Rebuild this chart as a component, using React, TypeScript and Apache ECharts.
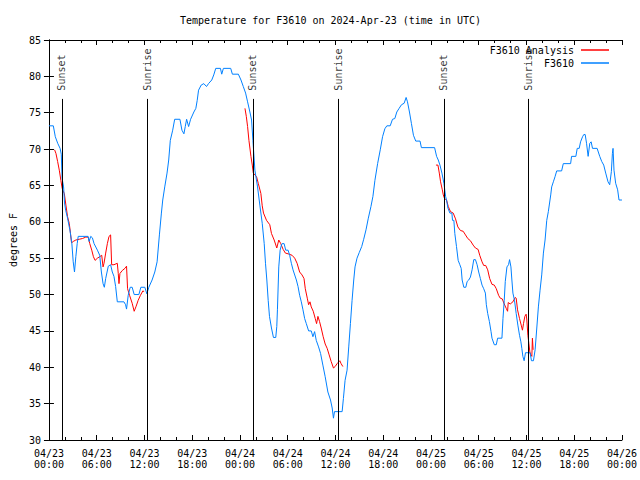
import React, { useEffect, useRef } from "react";
import * as echarts from "echarts";

const TITLE = "Temperature for F3610 on 2024-Apr-23 (time in UTC)";
const Y_NAME = "degrees F";
const FONT = "DejaVu Sans Mono";

// x = hours since 04/23 00:00 UTC
const xTickLabels = [
  "04/23\n00:00", "04/23\n06:00", "04/23\n12:00", "04/23\n18:00",
  "04/24\n00:00", "04/24\n06:00", "04/24\n12:00", "04/24\n18:00",
  "04/25\n00:00", "04/25\n06:00", "04/25\n12:00", "04/25\n18:00",
  "04/26\n00:00",
];
const X_MIN = 0, X_MAX = 72, X_STEP = 6;
const Y_MIN = 30, Y_MAX = 85, Y_STEP = 5;

const sunTimes = [1.62, 12.37, 25.62, 36.37, 49.62, 60.25];
const sunLabels = ["Sunset", "Sunrise", "Sunset", "Sunrise", "Sunset", "Sunrise"];
const sunLineTop = 76.9;
const sunLabelBase = 77.9;

const f3610: [number, number][] = [
  [0, 73.2], [0.55, 73.2], [0.8, 71.7], [1.1, 70.8], [1.4, 70.1], [1.55, 69.3], [1.65, 66.0],
  [1.84, 64.8], [1.96, 62.6], [2.1, 61.6], [2.34, 60.5], [2.55, 59.3], [2.63, 58.9], [2.88, 57.0],
  [3.05, 54.5], [3.21, 53.1], [3.38, 55.2], [3.55, 57.0], [3.68, 58.0], [4.92, 58.0], [5.05, 57.3],
  [5.25, 58.0], [5.46, 57.8], [5.67, 57.0], [6.09, 56.1], [6.38, 55.4], [6.59, 53.1], [6.8, 51.5],
  [6.96, 51.0], [7.13, 52.2], [7.46, 53.9], [7.75, 54.1], [7.96, 53.1], [8.17, 52.5], [8.38, 51.1],
  [8.59, 49.0], [9.42, 49.0], [9.63, 48.6], [9.75, 48.0], [9.96, 49.9], [10.21, 51.0], [10.46, 51.0],
  [10.71, 50.0], [11.3, 50.0], [11.55, 51.0], [12.05, 51.0], [12.3, 50.1], [12.55, 51.0], [12.96, 52.0],
  [13.3, 53.1], [13.59, 54.5], [13.88, 58.2], [14.13, 61.2], [14.3, 63.0], [14.55, 64.8], [14.84, 66.7],
  [15.05, 68.5], [15.25, 71.2], [15.55, 72.6], [15.8, 74.1], [16.46, 74.1], [16.71, 72.6], [16.96, 72.1],
  [17.13, 73.1], [17.3, 74.1], [17.55, 73.1], [17.8, 74.1], [18.21, 75.1], [18.46, 75.6], [18.63, 76.7],
  [18.8, 78.1], [19.13, 78.8], [19.46, 79.0], [19.8, 78.6], [20.05, 79.0], [20.46, 79.5], [20.71, 80.2],
  [20.96, 81.1], [21.55, 81.1], [21.71, 80.3], [21.92, 81.1], [22.84, 81.1], [23.05, 80.3], [23.8, 80.3],
  [24.13, 79.5], [24.42, 78.6], [24.71, 77.7], [24.96, 76.5], [25.25, 75.1], [25.46, 74.0], [25.63, 71.2],
  [25.88, 67.1], [26.21, 64.8], [26.5, 62.3], [26.8, 59.8], [27.05, 57.0], [27.21, 54.3], [27.38, 52.0],
  [27.55, 49.2], [27.71, 47.0], [27.96, 45.4], [28.21, 44.1], [28.5, 44.1], [28.63, 45.6], [28.71, 47.9],
  [28.88, 53.8], [29.05, 56.1], [29.21, 56.8], [29.3, 57.0], [29.55, 57.0], [29.75, 56.1], [30.05, 56.1],
  [30.25, 55.4], [30.46, 54.3], [30.67, 53.4], [31.09, 52.0], [31.3, 51.1], [31.5, 49.9], [31.71, 49.0],
  [31.92, 47.9], [32.13, 46.7], [32.34, 46.0], [32.63, 45.0], [32.96, 45.0], [33.17, 44.2], [33.38, 44.9],
  [33.59, 43.7], [33.88, 42.8], [34.13, 41.9], [34.42, 40.3], [34.71, 38.7], [35.05, 36.6], [35.38, 35.5],
  [35.59, 34.4], [35.75, 33.0], [35.88, 33.9], [36.84, 33.9], [37.0, 35.7], [37.21, 38.2], [37.46, 39.6],
  [37.67, 42.8], [37.88, 46.0], [38.09, 49.2], [38.3, 52.0], [38.46, 53.8], [38.71, 55.0], [39.0, 55.8],
  [39.3, 56.6], [39.55, 57.6], [39.84, 58.9], [40.13, 60.5], [40.46, 62.1], [40.71, 63.5], [40.96, 65.7],
  [41.3, 68.0], [41.63, 69.9], [41.92, 71.7], [42.21, 72.8], [42.46, 73.2], [42.88, 73.2], [43.17, 74.1],
  [43.46, 74.2], [43.71, 75.1], [44.0, 75.6], [44.3, 76.1], [44.63, 76.3], [44.88, 77.1], [45.05, 76.5],
  [45.3, 75.1], [45.55, 73.5], [45.8, 71.9], [46.09, 71.1], [46.63, 71.1], [46.8, 70.2], [48.46, 70.2],
  [48.71, 69.0], [48.92, 68.5], [49.13, 67.8], [49.38, 66.7], [49.63, 65.3], [49.84, 63.5], [49.96, 63.0],
  [50.13, 61.9], [50.38, 61.2], [50.63, 61.2], [50.71, 60.2], [50.88, 60.2], [51.0, 58.4], [51.21, 56.6],
  [51.42, 54.7], [51.63, 54.1], [51.8, 53.6], [51.92, 52.0], [52.13, 51.0], [52.38, 51.0], [52.55, 51.8],
  [52.75, 52.0], [52.96, 52.4], [53.17, 53.4], [53.38, 54.8], [53.59, 54.8], [53.8, 54.1], [54.0, 53.1],
  [54.21, 52.2], [54.42, 51.3], [54.63, 50.8], [54.84, 50.2], [54.96, 48.6], [55.13, 47.4], [55.34, 46.3],
  [55.55, 44.9], [55.67, 44.0], [55.96, 43.1], [56.21, 43.1], [56.38, 44.0], [56.92, 44.0], [57.05, 46.7],
  [57.21, 49.2], [57.34, 51.8], [57.55, 53.8], [57.75, 54.1], [57.88, 54.8], [58.05, 53.8], [58.17, 52.0],
  [58.3, 50.2], [58.5, 49.2], [58.71, 47.4], [58.92, 45.8], [59.13, 44.4], [59.3, 43.5], [59.42, 42.6],
  [59.55, 41.5], [59.71, 40.9], [59.88, 42.0], [60.46, 42.0], [60.63, 40.9], [60.88, 40.9], [61.09, 42.4],
  [61.3, 45.4], [61.5, 48.3], [61.71, 50.6], [61.92, 52.7], [62.13, 55.7], [62.34, 57.5], [62.55, 60.2],
  [62.75, 61.4], [63.05, 63.7], [63.17, 64.8], [63.38, 65.5], [63.59, 66.2], [63.8, 67.0], [64.42, 67.0],
  [64.63, 68.0], [65.55, 68.0], [65.67, 69.0], [66.21, 69.0], [66.38, 70.1], [66.63, 70.1], [66.8, 71.0],
  [67.05, 71.7], [67.21, 72.0], [67.38, 72.0], [67.55, 70.8], [67.75, 69.0], [67.96, 70.8], [68.13, 71.0],
  [68.3, 70.1], [68.88, 70.1], [69.21, 69.0], [69.46, 68.3], [69.71, 67.8], [69.96, 66.7], [70.25, 65.5],
  [70.46, 65.1], [70.67, 66.9], [70.8, 69.4], [70.88, 70.1], [71.0, 67.1], [71.21, 65.3], [71.46, 64.4],
  [71.63, 63.0], [72.0, 63.0],
];

const analysisNight1: [number, number][] = [
  [0.71, 69.9], [0.88, 69.4], [1.09, 68.3], [1.3, 67.1], [1.5, 65.7], [1.63, 64.8], [1.71, 64.4],
  [1.93, 63.9], [2.13, 62.3], [2.34, 60.7], [2.55, 59.8], [2.71, 58.4], [2.84, 57.1], [3.05, 57.3],
  [3.38, 57.5], [3.8, 57.6], [4.21, 57.7], [4.63, 57.9], [4.93, 57.9], [5.13, 57.0], [5.38, 56.1],
  [5.59, 55.2], [5.8, 54.7], [6.09, 55.0], [6.38, 55.2], [6.63, 55.4], [6.8, 53.8], [6.92, 54.3],
  [7.13, 55.7], [7.34, 57.0], [7.55, 58.0], [7.75, 58.2], [7.88, 54.1], [8.17, 54.1], [8.59, 54.3],
  [8.71, 52.9], [8.8, 51.5], [8.92, 52.9], [9.21, 53.3], [9.55, 53.6], [9.75, 53.9], [9.88, 50.8],
  [10.13, 49.9], [10.46, 48.8], [10.71, 47.7], [10.96, 48.4], [11.21, 49.2], [11.5, 49.9], [11.8, 50.5],
  [11.96, 50.4],
];

const analysisNight2: [number, number][] = [
  [24.63, 75.6], [24.8, 74.5], [24.96, 73.1], [25.13, 71.2], [25.38, 69.0], [25.55, 67.8], [25.68, 66.7],
  [26.09, 66.2], [26.3, 65.3], [26.63, 63.9], [26.8, 62.2], [26.96, 61.2], [27.34, 60.2], [27.75, 59.6],
  [27.96, 58.4], [28.3, 57.5], [28.63, 56.4], [28.88, 57.5], [29.13, 57.0], [29.43, 56.2], [29.71, 55.7],
  [30.05, 55.6], [30.55, 55.4], [30.88, 55.0], [31.18, 54.3], [31.5, 53.1], [31.8, 52.7], [32.05, 52.2],
  [32.21, 50.8], [32.46, 49.5], [32.63, 48.6], [32.8, 49.0], [32.96, 48.3], [33.21, 47.7], [33.46, 46.7],
  [33.63, 46.0], [33.8, 47.0], [34.0, 46.3], [34.21, 45.4], [34.46, 44.2], [34.71, 43.2], [34.96, 42.6],
  [35.21, 41.7], [35.46, 40.8], [35.75, 39.9], [35.96, 40.1], [36.21, 40.5], [36.55, 40.9], [36.71, 40.5],
  [36.93, 40.1],
];

const analysisNight3: [number, number][] = [
  [48.63, 67.8], [48.88, 67.8], [49.05, 66.7], [49.21, 65.5], [49.43, 64.4], [49.55, 63.7], [49.71, 63.2],
  [49.96, 63.0], [50.18, 62.1], [50.46, 61.4], [50.8, 61.2], [51.09, 60.4], [51.38, 59.3], [51.71, 58.8],
  [52.05, 58.7], [52.34, 58.2], [52.63, 57.7], [52.96, 57.4], [53.3, 56.8], [53.59, 56.4], [53.93, 56.2],
  [54.13, 55.4], [54.42, 54.5], [54.63, 54.0], [54.88, 54.0], [55.13, 53.4], [55.38, 52.2], [55.67, 51.4],
  [55.96, 51.3], [56.21, 50.8], [56.5, 49.9], [56.71, 49.5], [56.96, 49.4], [57.21, 48.7], [57.46, 48.1],
  [57.63, 47.7], [57.71, 48.9], [57.96, 48.7], [58.3, 49.0], [58.59, 49.6], [58.71, 49.5], [58.88, 47.9],
  [59.13, 46.7], [59.34, 45.8], [59.5, 45.1], [59.63, 46.0], [59.8, 47.0], [59.96, 47.3], [60.05, 46.5],
  [60.18, 44.4], [60.3, 43.3], [60.43, 42.1], [60.55, 41.7], [60.68, 41.5], [60.75, 44.0], [60.84, 42.4],
];

const RED = "#ff0000";
const BLUE = "#0080ff";
const ANALYSIS_NAME = "F3610 Analysis";
const STATION_NAME = "F3610";

export default function App() {
  const ref = useRef<HTMLDivElement>(null);
  useEffect(() => {
    if (!ref.current) return;
    const chart = echarts.init(ref.current, null, { renderer: "svg" });
    const txt = { fontFamily: FONT, fontSize: 10, color: "#000" };
    const axisLine = { show: true, lineStyle: { color: "#000", width: 1 } };
    const xBase = {
      type: "value" as const,
      min: X_MIN,
      max: X_MAX,
      interval: X_STEP,
      axisLine,
      splitLine: { show: false },
      axisTick: { show: true, inside: true, length: 5, lineStyle: { color: "#000" } },
      minorTick: { show: true, splitNumber: 3, length: 3, lineStyle: { color: "#000" } },
    };
    const yBase = {
      type: "value" as const,
      min: Y_MIN,
      max: Y_MAX,
      interval: Y_STEP,
      axisLine,
      splitLine: { show: false },
      axisTick: { show: true, inside: true, length: 5, lineStyle: { color: "#000" } },
    };
    const analysisSeries = [analysisNight1, analysisNight2, analysisNight3].map((d) => ({
      type: "line",
      name: ANALYSIS_NAME,
      data: d,
      symbol: "none",
      lineStyle: { color: RED, width: 1 },
      itemStyle: { color: RED },
      z: 3,
    }));
    chart.setOption({
      animation: false,
      title: {
        text: TITLE,
        left: 180,
        top: 15,
        padding: 0,
        textStyle: { ...txt, fontWeight: "normal" },
      },
      grid: { left: 46, right: 18, top: 40, bottom: 40 },
      legend: {
        orient: "vertical",
        right: 31,
        top: 44,
        align: "right",
        icon: "rect",
        itemWidth: 28,
        itemHeight: 1.5,
        itemGap: 1,
        padding: 0,
        textStyle: { ...txt, lineHeight: 12, padding: [0, 2, 0, 0] },
        data: [ANALYSIS_NAME, STATION_NAME],
      },
      xAxis: [
        {
          ...xBase,
          position: "bottom",
          axisLabel: {
            ...txt,
            lineHeight: 11,
            margin: 8,
            formatter: (v: number) => xTickLabels[Math.round((v - X_MIN) / X_STEP)] ?? "",
          },
        },
        { ...xBase, position: "top", axisLabel: { show: false } },
      ],
      yAxis: [
        {
          ...yBase,
          position: "left",
          name: Y_NAME,
          nameLocation: "middle",
          nameGap: 30,
          nameRotate: 90,
          nameTextStyle: { ...txt },
          axisLabel: { ...txt, margin: 8 },
        },
        { ...yBase, position: "right", axisLabel: { show: false } },
      ],
      series: [
        {
          type: "scatter",
          name: "sun",
          symbolSize: 0.01,
          data: sunTimes.map((t, i) => ({ value: [t, sunLabelBase], label: { formatter: sunLabels[i] } })),
          label: {
            show: true,
            position: "inside",
            rotate: 90,
            align: "left",
            verticalAlign: "middle",
            ...txt,
            offset: [1, 0],
          },
          markLine: {
            silent: true,
            symbol: ["none", "none"],
            label: { show: false },
            lineStyle: { color: "#000", width: 1, type: "solid" },
            data: sunTimes.map((t) => [{ coord: [t, Y_MIN] }, { coord: [t, sunLineTop] }]),
          },
          z: 2,
        },
        ...analysisSeries,
        {
          type: "line",
          name: STATION_NAME,
          data: f3610,
          symbol: "none",
          lineStyle: { color: BLUE, width: 1 },
          itemStyle: { color: BLUE },
          z: 4,
        },
      ],
    });
    return () => chart.dispose();
  }, []);
  return (
    <div
      ref={ref}
      style={{ position: "fixed", left: 0, top: 0, width: 640, height: 480, background: "#fff" }}
    />
  );
}
